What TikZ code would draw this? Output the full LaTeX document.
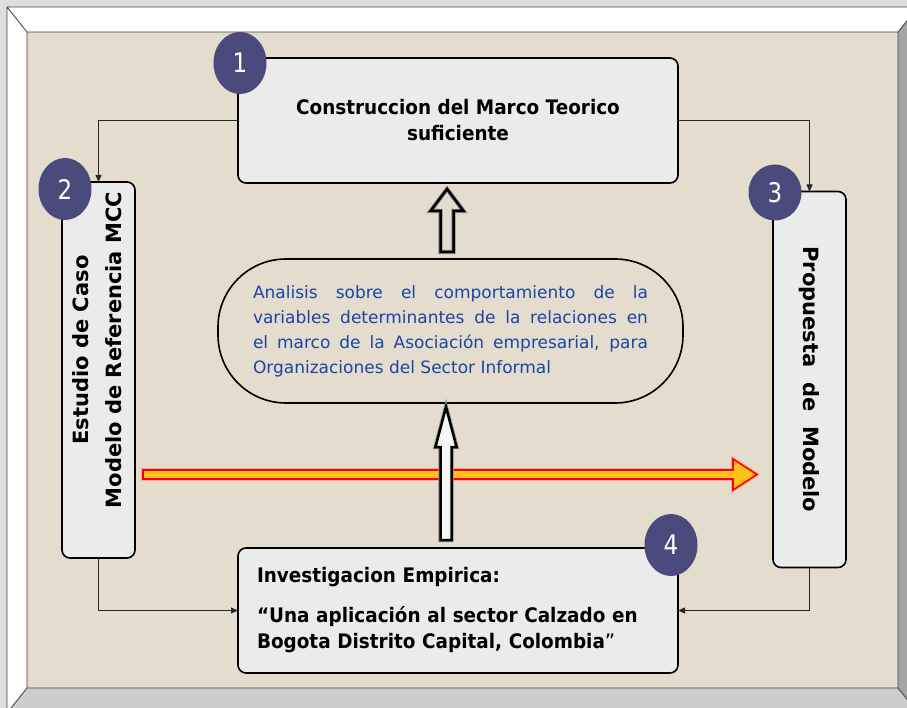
\documentclass[tikz,border=0pt]{standalone}
\usepackage{fontspec}
\setmainfont{DejaVu Sans}
\newfontfamily\cajafont[FakeStretch=0.92]{DejaVu Sans}
\newfontfamily\numfont[FakeStretch=0.85]{DejaVu Sans}
\usepackage{tikz}
\usetikzlibrary{arrows.meta,calc,positioning,shapes.geometric}
\definecolor{exterior}{HTML}{DEDEDE}
\definecolor{fondo}{HTML}{E4DCCD}
\definecolor{bisel}{HTML}{CDCDCD}
\definecolor{biseloscuro}{HTML}{A4A4A4}
\definecolor{cajagris}{HTML}{EBEBEB}
\definecolor{circulo}{HTML}{4A4A7C}
\definecolor{azul}{HTML}{1B44A8}
\definecolor{amarillo}{HTML}{FFC21A}
\tikzset{
  >={Triangle[length=7pt,width=6pt]},
  every node/.style={outer sep=0pt,inner sep=0pt}
}
\tikzset{caja/.style={
    draw,
    line width=1.6pt,
    rounded corners=8pt,
    fill=cajagris,
    minimum width=#1,
    font=\cajafont\bfseries\fontsize{20}{26}\selectfont
  },
  caja/.default=440pt}
\tikzset{columna/.style={
    draw,
    line width=1.6pt,
    rounded corners=8pt,
    fill=cajagris,
    minimum width=73pt,
    minimum height=376pt,
    font=\bfseries\fontsize{21}{33}\selectfont
  }}
\tikzset{capsula/.style={
    draw,
    line width=1.6pt,
    rounded corners=68pt,
    minimum width=465pt,
    minimum height=144pt,
    text width=395pt,
    align=justify,
    text=azul,
    font=\fontsize{17}{25}\selectfont
  }}
\tikzset{numero/.style={
    ellipse,
    fill=circulo,
    text=white,
    minimum width=53pt,
    minimum height=#1,
    font=\numfont\fontsize{27}{27}\selectfont
  },
  numero/.default=62pt}
\tikzset{conector/.style={draw=black!85,line width=0.8pt}}
\tikzset{hueca/.style={draw=black,line width=2.5pt,preaction={draw=black!45,line width=4.2pt}}}
\tikzset{roja/.style={fill=amarillo,draw=red,line width=1.6pt,preaction={draw=red!35,line width=3.6pt}}}
\newcommand{\flecha}[6][]{%
  \coordinate (flecha-h) at ($(#3)!#6!(#2)$);
  \draw [#1] ($(#2)!#4!90:(#3)$) -- ($(flecha-h)!#4!-90:(#2)$)
    -- ($(flecha-h)!#5!-90:(#2)$) -- (#3) -- ($(flecha-h)!#5!90:(#2)$)
    -- ($(flecha-h)!#4!90:(#2)$) -- ($(#2)!#4!-90:(#3)$) -- cycle;}

\begin{document}
\begin{tikzpicture}[x=1pt,y=-1pt]
  \useasboundingbox (0,0) rectangle (907,708);
  \fill [exterior] (0,0) rectangle (907,708);
  \fill [white] (7,7) -- (918,7) -- (898,32) -- (27,32) -- cycle;
  \fill [white] (7,7) -- (27,32) -- (27,688) -- (7,713) -- cycle;
  \fill [bisel] (7,713) -- (27,688) -- (898,688) -- (918,713) -- cycle;
  \fill [biseloscuro] (918,7) -- (898,32) -- (898,688) -- (918,713) -- cycle;
  \fill [fondo] (27,32) rectangle (898,688);
  \draw [black!75,line width=0.8pt] (7,7) rectangle (918,713) (27,32) rectangle (898,688)
    (7,7) -- (27,32) (918,7) -- (898,32) (7,713) -- (27,688) (918,713) -- (898,688);

  \node (teorico) [caja,minimum height=125pt,align=center] at (458,120.5)
    {Construccion del Marco Teorico\\suficiente};
  \node (analisis) [capsula,below=76pt of teorico,xshift=-7.5pt]
    {Analisis sobre el comportamiento de la\linebreak
     variables determinantes de la relaciones en\linebreak
     el marco de la Asociación empresarial, para\linebreak
     Organizaciones del Sector Informal};
  \node (investigacion) [caja,minimum height=125pt,text width=402pt,inner xsep=19pt,align=left,below=365pt of teorico]
    {Investigacion Empirica:\\[14pt]“Una aplicación al sector Calzado en\\Bogota Distrito Capital, Colombia{\normalfont ”}};
  \node (estudio) [columna] at (98.5,370)
    {\rotatebox{90}{\hspace*{40pt}\begin{tabular}{@{}c@{}}Estudio de Caso\\Modelo de Referencia MCC\end{tabular}}};
  \node (propuesta) [columna] at (809.5,379.5)
    {\rotatebox{-90}{Propuesta\ \ de\ \ Modelo}};

  \node (uno)    [numero]      at ([xshift=2pt,yshift=-5pt]teorico.north west)       {1};
  \node (dos)    [numero]      at ([xshift=3pt,yshift=-7pt]estudio.north west)       {2};
  \node (tres)   [numero=56pt] at ([xshift=2pt,yshift=-1pt]propuesta.north west)     {3};
  \node (cuatro) [numero]      at ([xshift=-7pt,yshift=3pt]investigacion.north east) {4};

  \draw [->,conector] (teorico.west) -| (estudio.north);
  \draw [->,conector] (teorico.east) -| (propuesta.north);
  \draw [->,conector] (estudio.south) |- (investigacion.west);
  \draw [->,conector] (propuesta.south) |- (investigacion.east);

  \coordinate (eje) at (0,474.5);
  \coordinate (rojaini) at ([xshift=8pt]estudio.east |- eje);
  \coordinate (rojafin) at ([xshift=-16pt]propuesta.west |- eje);
  \flecha[roja]{rojaini}{rojafin}{4.5pt}{15.5pt}{24pt}

  \coordinate (subeini) at ([shift={(-3.5pt,7pt)}]analisis.north);
  \coordinate (subefin) at ([shift={(-11pt,-6pt)}]teorico.south);
  \flecha[hueca]{subeini}{subefin}{6.5pt}{16.5pt}{22pt}

  \coordinate (bajoini) at ([shift={(-12pt,8pt)}]investigacion.north);
  \coordinate (bajofin) at ([shift={(-4.5pt,-4pt)}]analisis.south);
  \flecha[hueca,fill=gray!8]{bajoini}{bajofin}{5.5pt}{10.5pt}{40pt}
\end{tikzpicture}
\end{document}
